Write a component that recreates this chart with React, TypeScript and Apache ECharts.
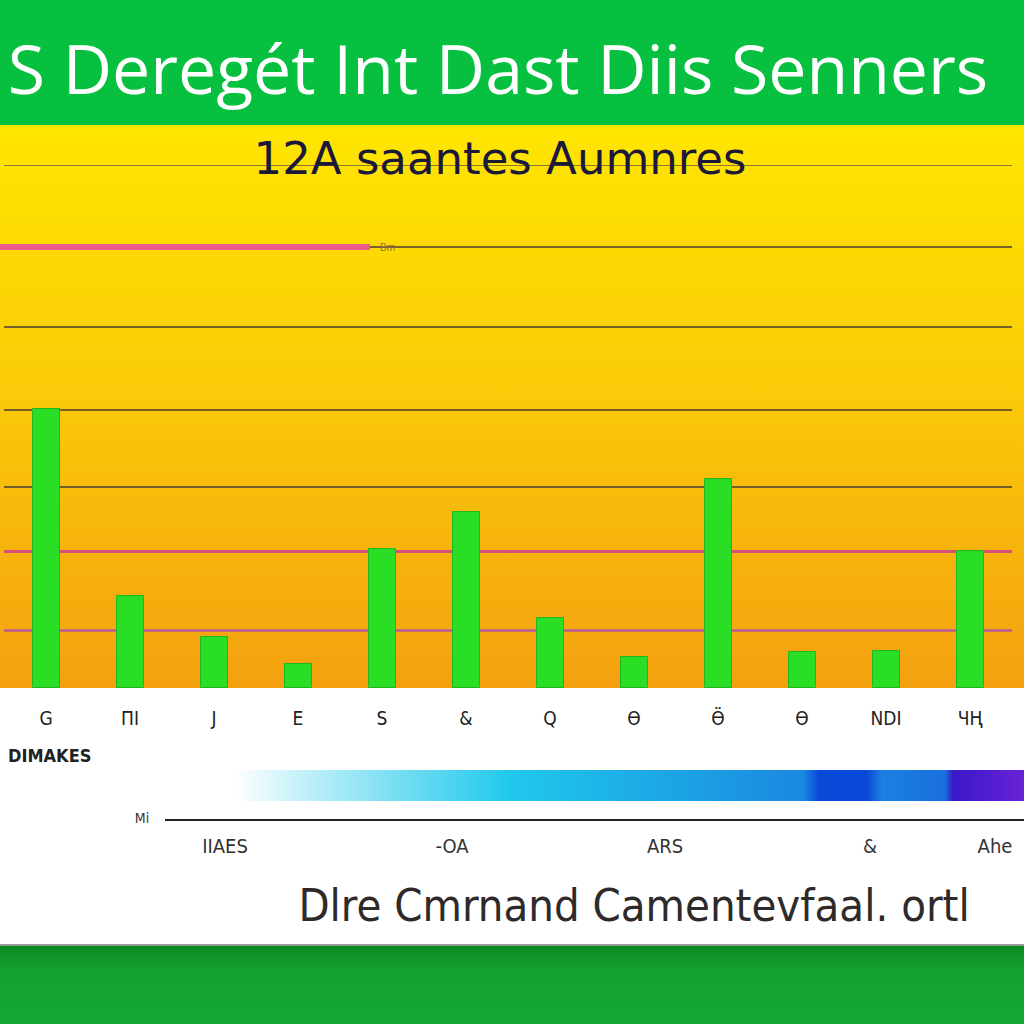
import React, { useEffect, useRef } from "react";
import * as echarts from "echarts";

const titleText = "S Deregét Int Dast Diis Senners";
const subtitleText = "12A saantes Aumnres";
const footerText = "Dlre Cmrnand Camentevfaal. ortl";
const legendLabel = "DIMAKES";
const scaleLabel = "Mi";
const categories = ["G", "ПI", "J", "E", "S", "&", "Q", "Ɵ", "Ӫ", "Ɵ", "NDI", "ЧҢ"];
const barValues = [280, 93, 52, 25, 140, 177, 71, 32, 210, 37, 38, 138];
const levels = [58, 137, 201, 278, 361, 441, 523];
const levelKinds = ["pinkSoft", "pink", "dark", "dark", "dark", "dark", "thin"];
const scaleTicks = ["IIAES", "-OA", "ARS", "&", "Ahe"];
const scaleTickX = [225, 452, 665, 870, 995];

export default function App() {
  const ref = useRef<HTMLDivElement>(null);
  useEffect(() => {
    const chart = echarts.init(ref.current!, null, { renderer: "svg" });
    const lineStyleFor = (k: string) =>
      k === "pink"
        ? { color: "#d8507a", width: 3, type: "solid" }
        : k === "pinkSoft"
        ? { color: "#b85a9a", width: 2.5, type: "solid" }
        : k === "thin"
        ? { color: "#8a7a30", width: 1, type: "solid" }
        : { color: "#4a3c3a", width: 1.6, type: "solid" };
    const plotGradient = {
      type: "linear",
      x: 0,
      y: 0,
      x2: 0,
      y2: 1,
      colorStops: [
        { offset: 0, color: "#ffe600" },
        { offset: 0.45, color: "#fbcc08" },
        { offset: 1, color: "#f4a010" },
      ],
    };
    chart.setOption({
      animation: false,
      backgroundColor: "#ffffff",
      grid: {
        left: 4,
        right: 12,
        top: 125,
        bottom: 336,
        show: true,
        borderWidth: 0,
        backgroundColor: plotGradient,
      },
      xAxis: {
        type: "category",
        data: categories,
        axisLine: { show: false },
        axisTick: { show: false },
        axisLabel: {
          margin: 20,
          color: "#222",
          fontSize: 19,
          fontFamily: "DejaVu Sans Condensed",
        },
      },
      yAxis: {
        type: "value",
        min: 0,
        max: 563,
        show: false,
        splitLine: { show: false },
      },
      series: [
        {
          type: "bar",
          data: barValues,
          barWidth: 28,
          itemStyle: {
            color: "#2ade26",
            borderColor: "#1fb820",
            borderWidth: 1,
          },
          z: 5,
          markLine: {
            silent: true,
            symbol: "none",
            label: { show: false },
            z: 3,
            data: levels.map((v, i) => ({
              yAxis: v,
              lineStyle: lineStyleFor(levelKinds[i]),
            })),
          },
        },
      ],
      graphic: [
        {
          type: "rect",
          shape: { x: -8, y: 0, width: 1040, height: 125 },
          style: { fill: "#07c03f" },
          z: 0,
        },
        {
          type: "rect",
          shape: { x: 0, y: 125, width: 4, height: 563 },
          style: { fill: plotGradient },
          z: 0,
        },
        {
          type: "rect",
          shape: { x: 1012, y: 125, width: 12, height: 563 },
          style: { fill: plotGradient },
          z: 0,
        },
        {
          type: "text",
          x: 498,
          y: 67,
          style: {
            text: titleText,
            fill: "#ffffff",
            font: "500 68px 'Open Sans', sans-serif",
            align: "center",
            verticalAlign: "middle",
            shadowColor: "rgba(0,80,0,0.5)",
            shadowBlur: 3,
            shadowOffsetY: 2,
          },
          z: 10,
        },
        {
          type: "text",
          x: 500,
          y: 158,
          style: {
            text: subtitleText,
            fill: "#1c1838",
            font: "500 45px 'DejaVu Sans', sans-serif",
            align: "center",
            verticalAlign: "middle",
          },
          z: 10,
        },
        {
          type: "rect",
          shape: { x: 0, y: 244, width: 370, height: 6 },
          style: { fill: "#ee5a8c" },
          z: 10,
        },
        {
          type: "text",
          x: 380,
          y: 247,
          style: { text: "Bm", fill: "#9a6a40", font: "10px sans-serif", verticalAlign: "middle" },
          z: 10,
        },
        {
          type: "text",
          x: 8,
          y: 755,
          style: {
            text: legendLabel,
            fill: "#222",
            font: "bold 18px 'DejaVu Sans Condensed', sans-serif",
            verticalAlign: "middle",
          },
          z: 10,
        },
        {
          type: "rect",
          shape: { x: 235, y: 770, width: 789, height: 31 },
          style: {
            fill: {
              type: "linear",
              x: 0,
              y: 0,
              x2: 1,
              y2: 0,
              colorStops: [
                { offset: 0, color: "#ffffff" },
                { offset: 0.1, color: "#b8eef8" },
                { offset: 0.35, color: "#20c8ec" },
                { offset: 0.72, color: "#1a88e0" },
                { offset: 0.74, color: "#0a48d8" },
                { offset: 0.8, color: "#0a48d8" },
                { offset: 0.82, color: "#1a80e0" },
                { offset: 0.9, color: "#1a70dc" },
                { offset: 0.91, color: "#3a18c8" },
                { offset: 1, color: "#6a22d8" },
              ],
            },
          },
          z: 10,
        },
        {
          type: "line",
          shape: { x1: 165, y1: 820, x2: 1024, y2: 820 },
          style: { stroke: "#222", lineWidth: 2 },
          z: 10,
        },
        {
          type: "text",
          x: 142,
          y: 818,
          style: {
            text: scaleLabel,
            fill: "#333",
            font: "14px 'DejaVu Sans Condensed', sans-serif",
            align: "center",
            verticalAlign: "middle",
          },
          z: 10,
        },
        ...scaleTicks.map((t, i) => ({
          type: "text",
          x: scaleTickX[i],
          y: 846,
          style: {
            text: t,
            fill: "#333",
            font: "20px 'DejaVu Sans Condensed', sans-serif",
            align: "center",
            verticalAlign: "middle",
          },
          z: 10,
        })),
        {
          type: "text",
          x: 634,
          y: 905,
          style: {
            text: footerText,
            fill: "#2e2a2a",
            font: "500 45px 'DejaVu Sans Condensed', sans-serif",
            align: "center",
            verticalAlign: "middle",
          },
          z: 10,
        },
        {
          type: "line",
          shape: { x1: 0, y1: 945, x2: 1024, y2: 945 },
          style: { stroke: "#9a9a9a", lineWidth: 2 },
          z: 10,
        },
        {
          type: "rect",
          shape: { x: -8, y: 946, width: 1040, height: 80 },
          style: {
            fill: {
              type: "linear",
              x: 0,
              y: 0,
              x2: 0,
              y2: 1,
              colorStops: [
                { offset: 0, color: "#0c8a22" },
                { offset: 0.3, color: "#13a030" },
                { offset: 1, color: "#16a832" },
              ],
            },
          },
          z: 10,
        },
      ],
    });
    return () => chart.dispose();
  }, []);
  return (
    <div
      ref={ref}
      style={{ position: "fixed", left: 0, top: 0, width: 1024, height: 1024 }}
    />
  );
}
